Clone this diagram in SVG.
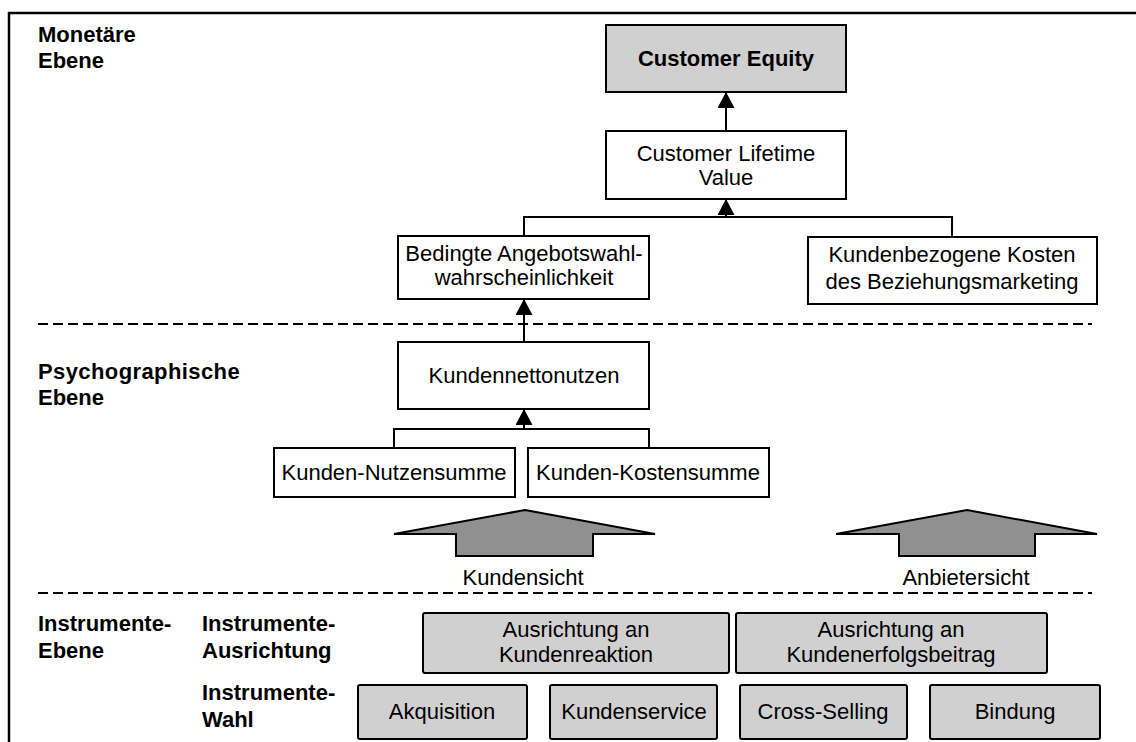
<svg xmlns="http://www.w3.org/2000/svg" width="1136" height="742" viewBox="0 0 1136 742">
<defs>
<marker id="ah" markerUnits="userSpaceOnUse" markerWidth="16" markerHeight="17" viewBox="0 0 16 17" refX="16" refY="8.5" orient="auto"><path d="M0,0 L16,8.5 L0,17 z" fill="#000"/></marker>
</defs>
<style>
.box{fill:#fff;stroke:#000;stroke-width:2}
.gbox{fill:#d0d0d0;stroke:#000;stroke-width:2}
.t{font-family:"Liberation Sans",Arial,sans-serif;font-size:22px;fill:#000;text-anchor:middle}
.b{font-family:"Liberation Sans",Arial,sans-serif;font-size:22px;font-weight:bold;fill:#000}
.conn{fill:none;stroke:#000;stroke-width:2}
.arr{fill:none;stroke:#000;stroke-width:2;marker-end:url(#ah)}
.dash{stroke:#000;stroke-width:2;stroke-dasharray:10 5}
.big{fill:#909090;stroke:#000;stroke-width:2}
.frame{stroke:#000;stroke-width:2.5}
</style>
<rect width="1136" height="742" fill="#fff"/>
<g id="frame">
<line class="frame" x1="8" y1="13" x2="1136" y2="13"/>
<line class="frame" x1="9" y1="12" x2="9" y2="742"/>
</g>
<g id="levels">
<text class="b" x="38" y="42">Monetäre</text>
<text class="b" x="38" y="68">Ebene</text>
<text class="b" x="38" y="379" letter-spacing="0.4">Psychographische</text>
<text class="b" x="38" y="405">Ebene</text>
<text class="b" x="38" y="631">Instrumente-</text>
<text class="b" x="38" y="658">Ebene</text>
<text class="b" x="202" y="631">Instrumente-</text>
<text class="b" x="202" y="658">Ausrichtung</text>
<text class="b" x="202" y="700">Instrumente-</text>
<text class="b" x="202" y="727">Wahl</text>
<line class="dash" x1="38" y1="324" x2="1092" y2="324"/>
<line class="dash" x1="38" y1="593" x2="1092" y2="593"/>
</g>
<g id="connectors">
<line class="arr" x1="726" y1="131" x2="726" y2="92"/>
<line class="arr" x1="726" y1="217" x2="726" y2="199"/>
<polyline class="conn" points="524,236 524,217 952,217 952,237"/>
<line class="arr" x1="524" y1="342" x2="524" y2="299"/>
<line class="arr" x1="524" y1="429" x2="524" y2="409"/>
<polyline class="conn" points="394,448 394,429 649,429 649,448"/>
</g>
<g id="customer-equity">
<rect class="gbox" x="606" y="25" width="240" height="67"/>
<text class="t" x="726" y="66" font-weight="bold">Customer Equity</text>
</g>
<g id="clv">
<rect class="box" x="606" y="131" width="240" height="68"/>
<text class="t" x="726" y="161">Customer Lifetime</text>
<text class="t" x="726" y="185">Value</text>
</g>
<g id="angebotswahl">
<rect class="box" x="398" y="236" width="251" height="63"/>
<text class="t" x="524" y="261">Bedingte Angebotswahl-</text>
<text class="t" x="524" y="285">wahrscheinlichkeit</text>
</g>
<g id="kosten-bm">
<rect class="box" x="808" y="237" width="289" height="67"/>
<text class="t" x="952" y="262">Kundenbezogene Kosten</text>
<text class="t" x="952" y="289">des Beziehungsmarketing</text>
</g>
<g id="nettonutzen">
<rect class="box" x="398" y="342" width="251" height="67"/>
<text class="t" x="524" y="383">Kundennettonutzen</text>
</g>
<g id="nutzensumme">
<rect class="box" x="274" y="448" width="241" height="49"/>
<text class="t" x="394" y="480">Kunden-Nutzensumme</text>
</g>
<g id="kostensumme">
<rect class="box" x="528" y="448" width="241" height="49"/>
<text class="t" x="648" y="480">Kunden-Kostensumme</text>
</g>
<g id="kundensicht">
<polygon class="big" points="525,510 655,534 593,534 593,556 456,556 456,534 394,534"/>
<text class="t" x="523" y="585">Kundensicht</text>
</g>
<g id="anbietersicht">
<polygon class="big" points="967,510 1097,534 1035,534 1035,556 899,556 899,534 836,534"/>
<text class="t" x="966" y="585">Anbietersicht</text>
</g>
<g id="ausrichtung-reaktion">
<rect class="gbox" x="423" y="613" width="306" height="60" rx="2"/>
<text class="t" x="576" y="637">Ausrichtung an</text>
<text class="t" x="576" y="662">Kundenreaktion</text>
</g>
<g id="ausrichtung-erfolg">
<rect class="gbox" x="736" y="613" width="311" height="60" rx="2"/>
<text class="t" x="891" y="637">Ausrichtung an</text>
<text class="t" x="891" y="662">Kundenerfolgsbeitrag</text>
</g>
<g id="akquisition">
<rect class="gbox" x="358" y="685" width="169" height="54" rx="2"/>
<text class="t" x="442" y="719">Akquisition</text>
</g>
<g id="kundenservice">
<rect class="gbox" x="550" y="685" width="167" height="54" rx="2"/>
<text class="t" x="634" y="719">Kundenservice</text>
</g>
<g id="cross-selling">
<rect class="gbox" x="740" y="685" width="167" height="54" rx="2"/>
<text class="t" x="823" y="719">Cross-Selling</text>
</g>
<g id="bindung">
<rect class="gbox" x="930" y="685" width="170" height="54" rx="2"/>
<text class="t" x="1015" y="719">Bindung</text>
</g>
</svg>
